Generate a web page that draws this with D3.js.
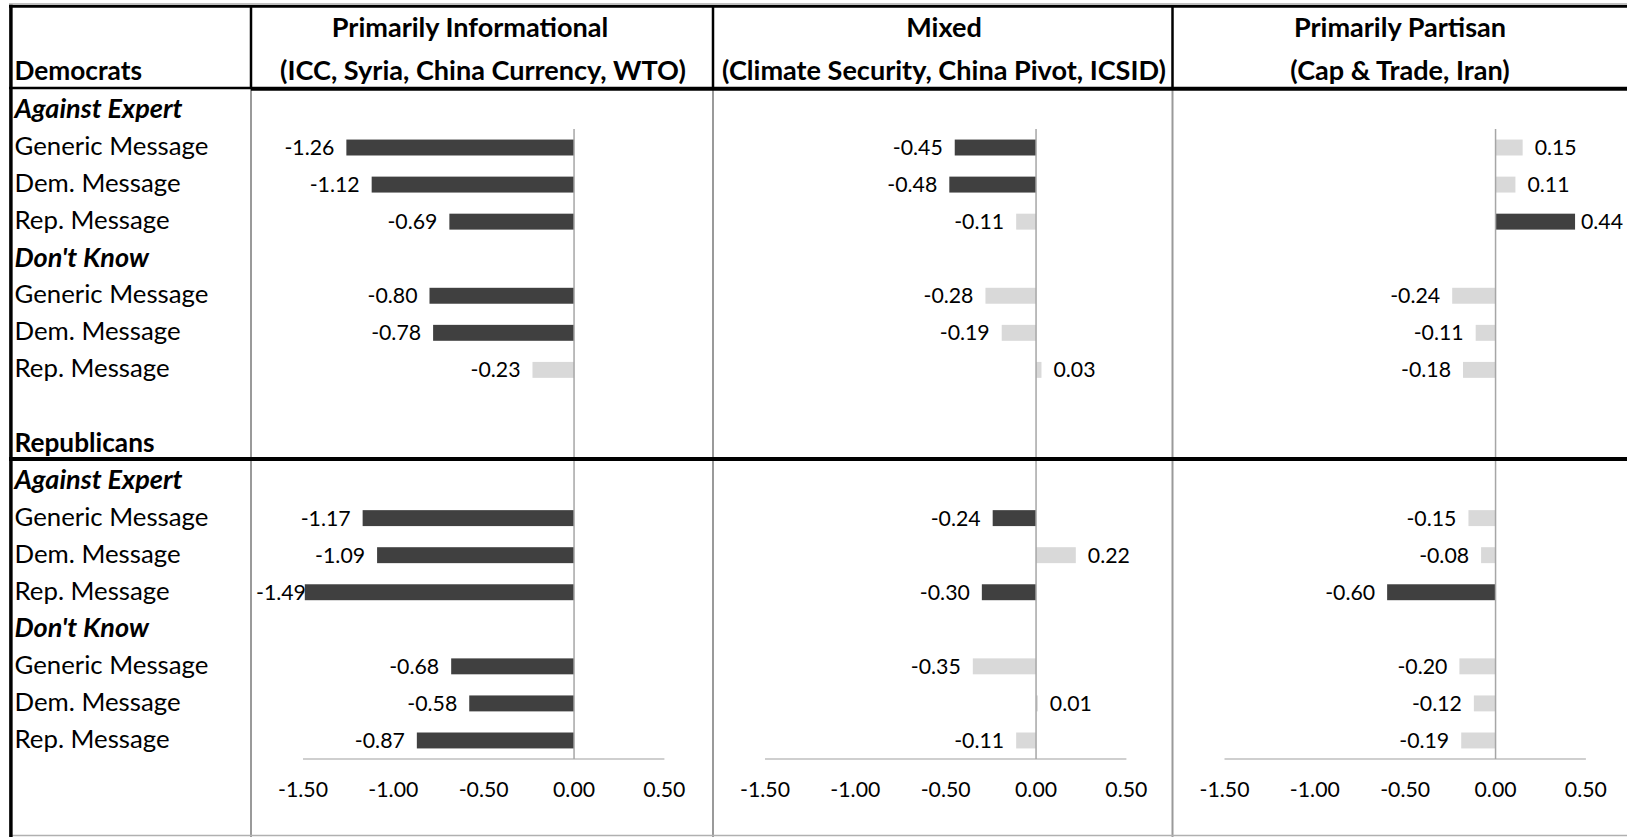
<!DOCTYPE html>
<html><head><meta charset="utf-8">
<script src="https://cdn.jsdelivr.net/npm/d3@7"></script>
<style>body{margin:0;background:#fff;overflow:hidden} svg{display:block}</style>
</head><body><svg id="c" width="1627" height="837"></svg>
<script>
// ---------- data ----------
const panelTitles = ["Primarily Informational", "Mixed", "Primarily Partisan"];
const panelSubtitles = ["(ICC, Syria, China Currency, WTO)", "(Climate Security, China Pivot, ICSID)", "(Cap & Trade, Iran)"];
const parties = ["Democrats", "Republicans"];
const responses = ["Against Expert", "Don't Know"];
const messages = ["Generic Message", "Dem. Message", "Rep. Message"];
// order: Dem AE (Gen, Dem, Rep), Dem DK (Gen, Dem, Rep), Rep AE (...), Rep DK (...)
const informationalValues = [-1.26, -1.12, -0.69, -0.80, -0.78, -0.23, -1.17, -1.09, -1.49, -0.68, -0.58, -0.87];
const informationalSignificant = [1, 1, 1, 1, 1, 0, 1, 1, 1, 1, 1, 1];
const mixedValues = [-0.45, -0.48, -0.11, -0.28, -0.19, 0.03, -0.24, 0.22, -0.30, -0.35, 0.01, -0.11];
const mixedSignificant = [1, 1, 0, 0, 0, 0, 1, 0, 1, 0, 0, 0];
const partisanValues = [0.15, 0.11, 0.44, -0.24, -0.11, -0.18, -0.15, -0.08, -0.60, -0.20, -0.12, -0.19];
const partisanSignificant = [0, 0, 1, 0, 0, 0, 0, 0, 1, 0, 0, 0];
const tickValues = [-1.5, -1.0, -0.5, 0.0, 0.5];
const axisDomain = [-1.5, 0.5];

// ---------- layout ----------
const W = 1627, H = 837;
const FONT = "Lato, 'Open Sans', sans-serif";
const svg = d3.select("#c");
svg.append("rect").attr("width", W).attr("height", H).attr("fill", "#fff");

const plotTop = 129, plotBottom = 759;
const step = (plotBottom - plotTop) / 17;
const colLefts = [251, 713, 1172.5];
const colRights = [713, 1172.5, W];
const titleCenters = [470, 944, 1400];
const subtitleCenters = [483, 944, 1400];
const panelValues = [informationalValues, mixedValues, partisanValues];
const panelSig = [informationalSignificant, mixedSignificant, partisanSignificant];

// build rows
const rows = [];
let vi = 0;
parties.forEach((p, pi) => {
  if (pi > 0) rows.push({label: "", type: "blank"});
  rows.push({label: p, type: "party", first: pi === 0});
  responses.forEach(r => {
    rows.push({label: r, type: "response"});
    messages.forEach(m => { rows.push({label: m, type: "message", vi: vi++}); });
  });
});
const y = d3.scaleBand().domain(d3.range(rows.length))
  .range([plotTop - 2 * step, plotBottom]).paddingInner(0.57).paddingOuter(0.285);

// font fitting helper
const meas = svg.append("text").attr("font-family", FONT).attr("font-size", 100).attr("x", -1000).attr("y", -1000);
function fit(txt, weight, style, target) {
  meas.attr("font-weight", weight).attr("font-style", style).text(txt);
  return 100 * target / meas.node().getComputedTextLength();
}
function width(txt, weight, style, size) {
  meas.attr("font-weight", weight).attr("font-style", style).attr("font-size", size).text(txt);
  const w = meas.node().getComputedTextLength();
  meas.attr("font-size", 100);
  return w;
}
const fsMsg = fit("Generic Message", "normal", "normal", 194);
const fsResp = fit("Against Expert", "bold", "italic", 168);
const fsParty = fit("Republicans", "bold", "normal", 140);
const fsHead = fit("(ICC, Syria, China Currency, WTO)", "bold", "normal", 406);
const fsNum = fit("-1.50", "normal", "normal", 50);

const fmt = d3.formatLocale({decimal: ".", thousands: ",", grouping: [3], currency: ["", ""], minus: "-"}).format(".2f");

// ---------- left column labels ----------
const g0 = svg.append("g").attr("font-family", FONT).attr("fill", "#000");
rows.forEach((r, i) => {
  if (!r.label) return;
  const yy = r.first ? 70.5 : y(i) + y.bandwidth() / 2 - 1.5;
  const t = g0.append("text").attr("x", 14.5).attr("y", yy).attr("dy", "0.35em").text(r.label);
  if (r.type === "party") t.attr("font-weight", "bold").attr("font-size", fsParty);
  else if (r.type === "response") t.attr("font-weight", "bold").attr("font-style", "italic").attr("font-size", fsResp);
  else t.attr("font-size", fsMsg);
});

// ---------- panels ----------
panelTitles.forEach((title, pi) => {
  const left = colLefts[pi];
  const x = d3.scaleLinear().domain(axisDomain).range([left + 52, left + 52 + 361.4]);
  const g = svg.append("g").attr("font-family", FONT);

  // headers
  g.append("text").attr("x", titleCenters[pi]).attr("y", 28).attr("dy", "0.35em").attr("text-anchor", "middle")
    .attr("font-weight", "bold").attr("font-size", fsHead).text(title);
  g.append("text").attr("x", subtitleCenters[pi]).attr("y", 70.5).attr("dy", "0.35em").attr("text-anchor", "middle")
    .attr("font-weight", "bold").attr("font-size", fsHead).text(panelSubtitles[pi]);

  // axis line
  g.append("line").attr("x1", x(axisDomain[0])).attr("x2", x(axisDomain[1]))
    .attr("y1", plotBottom).attr("y2", plotBottom).attr("stroke", "#bfbfbf").attr("stroke-width", 1.5);
  // tick labels
  g.selectAll("text.tick").data(tickValues).join("text").attr("class", "tick")
    .attr("x", d => x(d)).attr("y", 790).attr("dy", "0.35em").attr("text-anchor", "middle")
    .attr("font-size", fsNum).attr("fill", "#000").text(d => fmt(d));

  const data = rows.map((r, i) => ({r, i})).filter(d => d.r.type === "message")
    .map(d => ({row: d.i, v: panelValues[pi][d.r.vi], sig: panelSig[pi][d.r.vi]}));

  // bars
  g.selectAll("rect.bar").data(data).join("rect").attr("class", "bar")
    .attr("x", d => Math.min(x(0), x(d.v))).attr("width", d => Math.abs(x(d.v) - x(0)))
    .attr("y", d => y(d.row)).attr("height", y.bandwidth())
    .attr("fill", d => d.sig ? "#404040" : "#d9d9d9");

  // zero line
  g.append("line").attr("x1", x(0)).attr("x2", x(0)).attr("y1", plotTop).attr("y2", plotBottom)
    .attr("stroke", "#a6a6a6").attr("stroke-width", 1.5);

  // value labels (kept inside the chart area, as the spreadsheet does)
  data.forEach(d => {
    const s = fmt(d.v);
    const w = width(s, "normal", "normal", fsNum);
    let tx, anchor;
    if (d.v < 0) { tx = Math.max(x(d.v) - 12, left + 5 + w); anchor = "end"; }
    else { tx = Math.min(x(d.v) + 12, W - w - 4); anchor = "start"; }
    g.append("text").attr("x", tx).attr("y", y(d.row) + y.bandwidth() / 2).attr("dy", "0.35em")
      .attr("text-anchor", anchor).attr("font-size", fsNum).attr("fill", "#000").text(s);
  });
});
meas.remove();

// ---------- table grid ----------
const grid = svg.append("g");
grid.append("line").attr("x1", 9).attr("x2", W).attr("y1", 3.5).attr("y2", 3.5).attr("stroke", "#c0c0c0").attr("stroke-width", 1);
grid.append("line").attr("x1", 9).attr("x2", W).attr("y1", 6.2).attr("y2", 6.2).attr("stroke", "#000").attr("stroke-width", 3);
colLefts.forEach(cx => {
  grid.append("line").attr("x1", cx).attr("x2", cx).attr("y1", 89).attr("y2", H).attr("stroke", "#9a9a9a").attr("stroke-width", 2);
  grid.append("line").attr("x1", cx).attr("x2", cx).attr("y1", 5).attr("y2", 89).attr("stroke", "#000").attr("stroke-width", 2.5);
});
grid.append("line").attr("x1", 9).attr("x2", 251).attr("y1", 88).attr("y2", 88).attr("stroke", "#000").attr("stroke-width", 2.5);
grid.append("line").attr("x1", 251).attr("x2", W).attr("y1", 88.7).attr("y2", 88.7).attr("stroke", "#000").attr("stroke-width", 4);
grid.append("line").attr("x1", 9).attr("x2", W).attr("y1", 459).attr("y2", 459).attr("stroke", "#000").attr("stroke-width", 4);
grid.append("line").attr("x1", 9).attr("x2", W).attr("y1", 835.5).attr("y2", 835.5).attr("stroke", "#b0b0b0").attr("stroke-width", 1.5);
grid.append("line").attr("x1", 10.9).attr("x2", 10.9).attr("y1", 4.7).attr("y2", H).attr("stroke", "#000").attr("stroke-width", 3.5);
</script>
</body></html>
